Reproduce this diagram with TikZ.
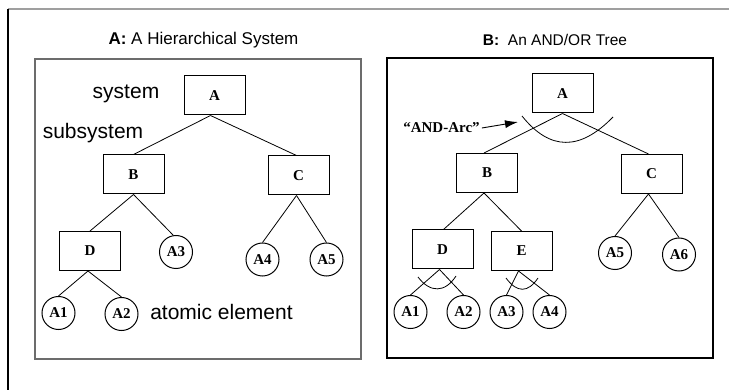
\documentclass[tikz,border=0pt]{standalone}
\usepackage{fontspec}
\setmainfont{Liberation Serif}
\newfontfamily\arial{Liberation Sans}
\usetikzlibrary{arrows.meta}
\begin{document}
\begin{tikzpicture}[x=1pt,y=-1pt,
  boxnode/.style={draw, line width=1pt, minimum width=61pt, minimum height=39pt, inner sep=0pt, font=\fontsize{15}{15}\selectfont\bfseries},
  leaf/.style={circle, draw, line width=1pt, minimum size=33pt, inner sep=0pt, font=\fontsize{15}{15}\selectfont\bfseries},
  edge/.style={line width=0.8pt},
  andarc/.style={line width=0.8pt},
  lbl/.style={font=\arial\fontsize{21}{21}\selectfont, inner sep=0pt},
]
\useasboundingbox (0,0) rectangle (729,390);
% outer frame
\draw[gray!75, line width=1.6pt] (8,9) -- (729,9);
\draw[black, line width=1.2pt] (8,9) -- (8,390);
% panels
\draw[gray!85!black, line width=1.5pt] (35,59) rectangle (361,359);
\draw[black, line width=1.3pt] (387,58) rectangle (713,358);
% titles
\node[font=\arial\fontsize{17}{17}\selectfont, inner sep=0pt] (ta) at (203.5,40) {\textbf{A:} A Hierarchical System};
\node[font=\arial\fontsize{15.5}{15.5}\selectfont, inner sep=0pt] (tb) at (555,40) {\textbf{B:}\ \ An AND/OR Tree};

% ---------- left tree ----------
\node[boxnode] (LA) at (214.5,95.5) {A};
\node[boxnode] (LB) at (133.5,174.5) {B};
\node[boxnode] (LC) at (298.5,175.5) {C};
\node[boxnode] (LD) at (90,251) {D};
\node[leaf] (LA3) at (176,252) {A3};
\node[leaf] (LA4) at (262.5,259.5) {A4};
\node[leaf] (LA5) at (326.5,259.5) {A5};
\node[leaf] (LA1) at (58.5,313) {A1};
\node[leaf] (LA2) at (121.5,314) {A2};
\node[lbl] (sys) at (126,94) {system};
\node[lbl] (sub) at (93,133) {subsystem};
\node[lbl] (atom) at (221.5,312) {atomic element};

\draw[edge] ([xshift=-4pt]LA.south) -- (LB.north);
\draw[edge] ([xshift=-4pt]LA.south) -- ([xshift=-2pt]LC.north);
\draw[edge] (LB.south) -- (LD.north);
\draw[edge] (LB.south) -- ([xshift=-3pt]LA3.north);
\draw[edge] ([xshift=-2pt]LC.south) -- (LA4.north);
\draw[edge] ([xshift=-2pt]LC.south) -- (LA5.north);
\draw[edge] ([xshift=-2pt]LD.south) -- (LA1.north);
\draw[edge] ([xshift=-2pt]LD.south) -- (LA2.north);

% ---------- right tree ----------
\node[boxnode] (RA) at (562.5,93.5) {A};
\node[boxnode] (RB) at (487,173) {B};
\node[boxnode] (RC) at (651.5,174) {C};
\node[boxnode] (RD) at (442.5,249.5) {D};
\node[boxnode] (RE) at (521.5,251) {E};
\node[leaf] (RA5) at (615,253) {A5};
\node[leaf] (RA6) at (679,254.5) {A6};
\node[leaf] (RA1) at (410.5,312) {A1};
\node[leaf] (RA2) at (463.5,312) {A2};
\node[leaf] (RA3) at (506.5,312) {A3};
\node[leaf] (RA4) at (549.5,312) {A4};

\draw[edge] (RA.south) -- ([xshift=-3pt]RB.north);
\draw[edge] (RA.south) -- ([xshift=-3pt]RC.north);
\draw[edge] ([xshift=-3pt]RB.south) -- ([xshift=1pt]RD.north);
\draw[edge] ([xshift=-3pt]RB.south) -- (RE.north);
\draw[edge] ([xshift=-3pt]RC.south) -- (RA5.north);
\draw[edge] ([xshift=-3pt]RC.south) -- (RA6.north);
\draw[edge] ([xshift=-3pt]RD.south) -- (RA1.north);
\draw[edge] ([xshift=-3pt]RD.south) -- (RA2.north);
\draw[edge] ([xshift=-3pt]RE.south) -- (RA3.north);
\draw[edge] ([xshift=-3pt]RE.south) -- (RA4.north);

% AND arcs
\draw[andarc] (522,116) .. controls (550,151) and (580,151) .. (613,117);
\draw[andarc] (418,277) .. controls (430,293) and (445,293) .. (456,276);
\draw[andarc] (506,278) .. controls (517,293) and (528,293) .. (538,278);

% AND-Arc label
\node[font=\fontsize{15}{15}\selectfont\bfseries, inner sep=0pt] (andl) at (441.5,128) {``AND-Arc''};
\coordinate (arctip) at (518,122);
\draw[line width=0.9pt, -{Latex[length=13pt,width=8pt]}] ([xshift=2pt]andl.east) -- (arctip);
\end{tikzpicture}
\end{document}
